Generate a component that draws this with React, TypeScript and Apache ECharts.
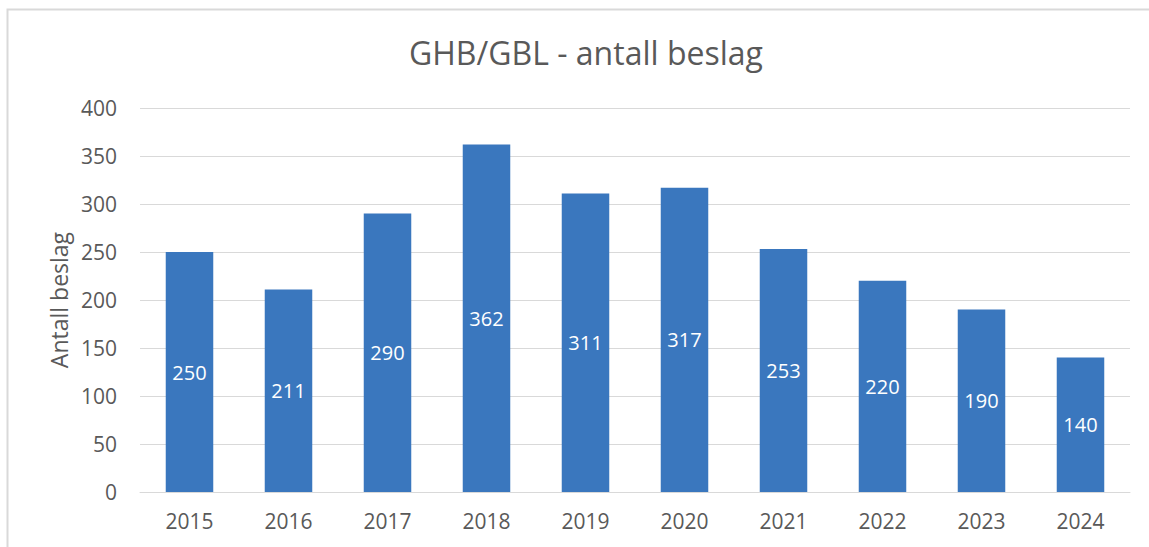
import React, { useEffect, useRef } from "react";
import * as echarts from "echarts";

const years = ["2015", "2016", "2017", "2018", "2019", "2020", "2021", "2022", "2023", "2024"];
const seizures = [250, 211, 290, 362, 311, 317, 253, 220, 190, 140];
const titleText = "GHB/GBL - antall beslag";
const yAxisName = "Antall beslag";

const FONT = "'Open Sans', sans-serif";

export default function App() {
  const ref = useRef<HTMLDivElement>(null);
  useEffect(() => {
    if (!ref.current) return;
    const chart = echarts.init(ref.current, null, { renderer: "svg" });
    chart.setOption({
      animation: false,
      backgroundColor: "#ffffff",
      title: {
        text: titleText,
        left: 404,
        top: 31,
        textStyle: { fontFamily: FONT, fontSize: 32, fontWeight: "normal", color: "#595959" },
      },
      graphic: [
        {
          type: "rect",
          shape: { x: 7.5, y: 9.5, width: 1160, height: 560 },
          style: { fill: "none", stroke: "#d9d9d9", lineWidth: 2 },
          silent: true,
        },
      ],
      grid: { left: 140, right: 19, top: 108, bottom: 55 },
      xAxis: {
        type: "category",
        data: years,
        axisLine: { lineStyle: { color: "#d9d9d9", width: 1 } },
        axisTick: { show: false },
        axisLabel: { fontFamily: FONT, fontSize: 21, color: "#595959", margin: 18 },
      },
      yAxis: {
        type: "value",
        min: 0,
        max: 400,
        interval: 50,
        name: yAxisName,
        nameLocation: "middle",
        nameGap: 70,
        nameTextStyle: { fontFamily: FONT, fontSize: 23, color: "#595959" },
        axisLine: { show: false },
        axisTick: { show: false },
        axisLabel: { fontFamily: FONT, fontSize: 21, color: "#595959", margin: 23 },
        splitLine: { lineStyle: { color: "#d9d9d9", width: 1 } },
      },
      series: [
        {
          type: "bar",
          data: seizures,
          barWidth: "48%",
          itemStyle: { color: "#3A77BE" },
          label: {
            show: true,
            position: "inside",
            fontFamily: FONT,
            fontSize: 20,
            color: "#ffffff",
          },
        },
      ],
    });
    return () => chart.dispose();
  }, []);
  return (
    <div
      ref={ref}
      style={{ position: "fixed", left: 0, top: 0, width: 1149, height: 547 }}
    />
  );
}
